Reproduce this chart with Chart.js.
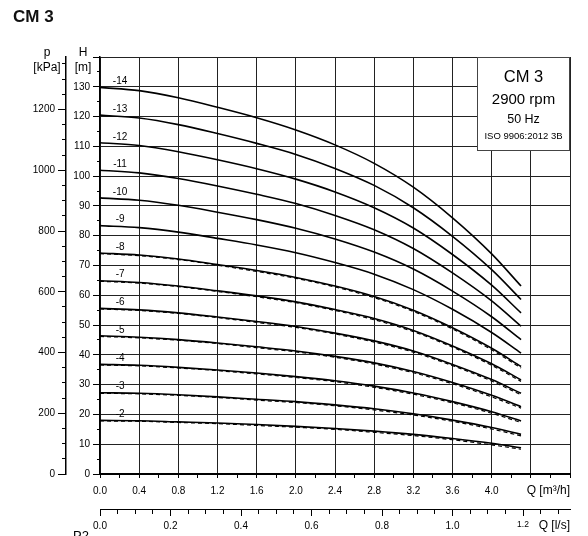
<!DOCTYPE html>
<html>
<head>
<meta charset="utf-8">
<title>CM 3</title>
<script src="https://cdn.jsdelivr.net/npm/chart.js@4.4.1/dist/chart.umd.min.js"></script>
<style>
  html, body { margin: 0; padding: 0; background: #fff; }
  canvas { display: block; }
</style>
</head>
<body>
<canvas id="chart" width="588" height="536"></canvas>
<script>
// flow points along each curve [m3/h]
const flow = [0, 0.4, 0.8, 1.2, 1.6, 2.0, 2.4, 2.8, 3.2, 3.6, 4.0, 4.3];

// head [m] per number of stages
const head14 = [129.8, 128.7, 126.3, 123.1, 119.6, 115.5, 110.5, 104.3, 96.3, 86.0, 73.9, 63.1];
const head13 = [120.5, 119.5, 117.3, 114.3, 111.0, 107.3, 102.6, 96.9, 89.4, 79.8, 68.6, 58.6];
const head12 = [111.2, 110.3, 108.2, 105.5, 102.5, 99.0, 94.7, 89.4, 82.6, 73.7, 63.4, 54.1];
const head11 = [102.0, 101.1, 99.2, 96.7, 93.9, 90.8, 86.8, 82.0, 75.7, 67.5, 58.1, 49.6];
const head10 = [92.7, 91.9, 90.2, 87.9, 85.4, 82.5, 78.9, 74.5, 68.8, 61.4, 52.8, 45.1];
const head9 = [83.4, 82.7, 81.2, 79.1, 76.9, 74.3, 71.0, 67.1, 61.9, 55.3, 47.5, 40.6];
const head8 = [74.2, 73.5, 72.2, 70.3, 68.3, 66.0, 63.1, 59.6, 55.0, 49.1, 42.2, 36.1];
const head7 = [64.9, 64.3, 63.1, 61.5, 59.8, 57.8, 55.2, 52.2, 48.2, 43.0, 37.0, 31.6];
const head6 = [55.6, 55.1, 54.1, 52.7, 51.2, 49.5, 47.3, 44.7, 41.3, 36.8, 31.7, 27.1];
const head5 = [46.4, 45.9, 45.1, 44.0, 42.7, 41.3, 39.5, 37.3, 34.4, 30.7, 26.4, 22.6];
const head4 = [36.8, 36.5, 35.8, 34.9, 33.9, 32.7, 31.3, 29.5, 27.2, 24.3, 20.9, 17.8];
const head3 = [27.3, 27.1, 26.6, 25.9, 25.1, 24.3, 23.2, 21.9, 20.2, 18.1, 15.6, 13.3];
const head2 = [18.0, 17.9, 17.5, 17.1, 16.6, 16.0, 15.3, 14.4, 13.3, 11.9, 10.3, 8.8];

// dashed companion curves of the smaller pumps
const dash8 = [74.0, 73.3, 72.0, 70.1, 68.0, 65.7, 62.8, 59.2, 54.6, 48.7, 41.7, 35.6];
const dash7 = [64.7, 64.1, 62.9, 61.3, 59.5, 57.5, 54.9, 51.8, 47.8, 42.6, 36.5, 31.1];
const dash6 = [55.4, 54.9, 53.9, 52.5, 50.9, 49.2, 47.0, 44.3, 40.9, 36.4, 31.2, 26.6];
const dash5 = [46.2, 45.7, 44.9, 43.8, 42.4, 41.0, 39.2, 36.9, 34.0, 30.3, 25.9, 22.1];
const dash4 = [36.6, 36.3, 35.6, 34.7, 33.6, 32.4, 31.0, 29.1, 26.8, 23.9, 20.4, 17.3];
const dash3 = [27.1, 26.9, 26.4, 25.7, 24.8, 24.0, 22.9, 21.5, 19.8, 17.7, 15.1, 12.8];
const dash2 = [17.8, 17.7, 17.3, 16.9, 16.3, 15.7, 15.0, 14.0, 12.9, 11.5, 9.8, 8.3];

const curves = [
  { label: '-14', data: head14 }, { label: '-13', data: head13 },
  { label: '-12', data: head12 }, { label: '-11', data: head11 },
  { label: '-10', data: head10 }, { label: '-9', data: head9 },
  { label: '-8', data: head8, dash: dash8 }, { label: '-7', data: head7, dash: dash7 },
  { label: '-6', data: head6, dash: dash6 }, { label: '-5', data: head5, dash: dash5 },
  { label: '-4', data: head4, dash: dash4 }, { label: '-3', data: head3, dash: dash3 },
  { label: '-2', data: head2, dash: dash2 }
];

// tick labels
const qLabels = ['0.0', '0.4', '0.8', '1.2', '1.6', '2.0', '2.4', '2.8', '3.2', '3.6', '4.0'];
const hLabels = ['0', '10', '20', '30', '40', '50', '60', '70', '80', '90', '100', '110', '120', '130'];
const pLabels = ['0', '200', '400', '600', '800', '1000', '1200'];
const lsLabels = ['0.0', '0.2', '0.4', '0.6', '0.8', '1.0', '1.2'];

const infoLines = ['CM 3', '2900 rpm', '50 Hz', 'ISO 9906:2012 3B'];

const FONT = '"Liberation Sans", Arial, sans-serif';
const H_MAX = 140;
const Q_MAX = 4.8;
const KPA_PER_M = 9.80665;

const near = (v, step) => Math.abs(v / step - Math.round(v / step)) < 1e-6;

const datasets = [];
curves.forEach(c => {
  if (c.dash) {
    datasets.push({
      data: flow.map((q, i) => ({ x: q, y: c.dash[i] })),
      borderColor: '#000', borderWidth: 1.2, borderDash: [4, 3],
      pointRadius: 0, cubicInterpolationMode: 'monotone', fill: false
    });
  }
  datasets.push({
    label: c.label,
    data: flow.map((q, i) => ({ x: q, y: c.data[i] })),
    borderColor: '#000', borderWidth: 1.6,
    pointRadius: 0, cubicInterpolationMode: 'monotone', fill: false
  });
});

const decor = {
  id: 'decor',
  afterDraw(chart) {
    const { ctx, chartArea: a, scales: { x, y } } = chart;
    ctx.save();
    ctx.fillStyle = '#000';
    ctx.textBaseline = 'middle';

    // stage numbers
    ctx.font = `10px ${FONT}`;
    ctx.textAlign = 'center';
    curves.forEach(c => {
      ctx.fillText(c.label, x.getPixelForValue(0.205), y.getPixelForValue(c.data[0]) - 6);
    });

    // axis titles
    ctx.font = `12px ${FONT}`;
    ctx.fillText('H', a.left - 17, 53);
    ctx.fillText('[m]', a.left - 17, 68);
    ctx.fillText('p', 47, 53);
    ctx.fillText('[kPa]', 47, 68);
    ctx.textAlign = 'right';
    ctx.fillText('Q [m³/h]', a.right, 491);
    ctx.fillText('Q [l/s]', a.right, 526);

    // page title
    ctx.textAlign = 'left';
    ctx.font = `bold 17px ${FONT}`;
    ctx.fillStyle = '#111';
    ctx.fillText('CM 3', 13, 17);

    ctx.fillStyle = '#000';
    ctx.font = `13px ${FONT}`;
    ctx.textBaseline = 'alphabetic';
    ctx.fillText('P2', 73, 539.5);

    // info box
    const bw = 93, bh = 93;
    const bx = a.right - bw, by = a.top;
    ctx.fillStyle = '#fff';
    ctx.fillRect(bx, by, bw, bh);
    ctx.strokeStyle = '#444';
    ctx.lineWidth = 1;
    ctx.strokeRect(Math.round(bx) + 0.5, Math.round(by) + 0.5, bw - 1, bh);
    ctx.fillStyle = '#000';
    ctx.textAlign = 'center';
    ctx.textBaseline = 'middle';
    const cx = bx + bw / 2;
    const sizes = [16.5, 15, 12.5, 9.5];
    const rows = [77, 100, 120, 136];
    infoLines.forEach((t, i) => {
      ctx.font = `${sizes[i]}px ${FONT}`;
      ctx.fillText(t, cx, rows[i]);
    });
    ctx.restore();
  }
};

new Chart(document.getElementById('chart'), {
  type: 'line',
  data: { datasets },
  options: {
    responsive: false,
    animation: false,
    events: [],
    layout: { padding: { top: 57, right: 18, left: 0, bottom: 0 } },
    plugins: { legend: { display: false }, tooltip: { enabled: false } },
    scales: {
      x: {
        type: 'linear', position: 'bottom', weight: 0,
        min: 0, max: Q_MAX, bounds: 'data',
        afterFit: s => { s.height = 35; },
        grid: {
          color: c => near(c.tick.value, 0.4) ? '#222' : 'rgba(0,0,0,0)',
          tickColor: '#000', tickLength: 4, lineWidth: 1
        },
        border: { color: '#000', width: 2 },
        ticks: {
          stepSize: 0.2, autoSkip: false, maxRotation: 0, padding: 7,
          includeBounds: false, color: '#000', font: { family: FONT, size: 10 },
          callback: v => {
            const lbl = v.toFixed(1);
            return near(v, 0.4) && qLabels.includes(lbl) ? lbl : '';
          }
        }
      },
      ql: {
        type: 'linear', position: 'bottom', weight: 1,
        min: 0, max: Q_MAX / 3.6, bounds: 'data',
        afterFit: s => { s.height = 27; },
        grid: {
          drawOnChartArea: false, tickColor: '#000', tickLength: 7,
          tickBorderDash: c => near(c.tick.value, 0.2) ? [] : [4, 20]
        },
        border: { color: '#000', width: 1 },
        ticks: {
          stepSize: 0.05, autoSkip: false, maxRotation: 0, padding: 4,
          includeBounds: false, color: '#000',
          font: c => ({ family: FONT, size: c.tick && Math.abs(c.tick.value - 1.2) < 1e-6 ? 8.5 : 10 }),
          callback: v => near(v, 0.2) ? (lsLabels[Math.round(v / 0.2)] || '') : ''
        }
      },
      y: {
        type: 'linear', position: 'left', weight: 0,
        min: 0, max: H_MAX, bounds: 'data',
        afterFit: s => { s.width = 34; },
        grid: {
          color: c => near(c.tick.value, 10) ? '#222' : 'rgba(0,0,0,0)',
          tickColor: '#000', tickLength: 7, lineWidth: 1,
          tickBorderDash: c => near(c.tick.value, 10) ? [] : [3, 20],
          tickBorderDashOffset: c => near(c.tick.value, 10) ? 0 : 19
        },
        border: { color: '#000', width: 1.5 },
        ticks: {
          stepSize: 5, autoSkip: false, padding: 3, includeBounds: false,
          color: '#000', font: { family: FONT, size: 10 },
          callback: v => {
            const lbl = v.toFixed(0);
            return near(v, 10) && hLabels.includes(lbl) ? lbl : '';
          }
        }
      },
      p: {
        type: 'linear', position: 'left', weight: 1,
        min: 0, max: H_MAX * KPA_PER_M, bounds: 'data',
        afterFit: s => { s.width = 66; },
        grid: {
          drawOnChartArea: false, tickColor: '#000', tickLength: 8,
          tickBorderDash: c => near(c.tick.value, 200) ? [] : [4, 20],
          tickBorderDashOffset: c => near(c.tick.value, 200) ? 0 : 20
        },
        border: { color: '#000', width: 1.5 },
        ticks: {
          stepSize: 50, autoSkip: false, padding: 3, includeBounds: false,
          color: '#000', font: { family: FONT, size: 10 },
          callback: v => {
            const lbl = v.toFixed(0);
            return near(v, 200) && pLabels.includes(lbl) ? lbl : '';
          }
        }
      }
    }
  },
  plugins: [decor]
});
</script>
</body>
</html>
